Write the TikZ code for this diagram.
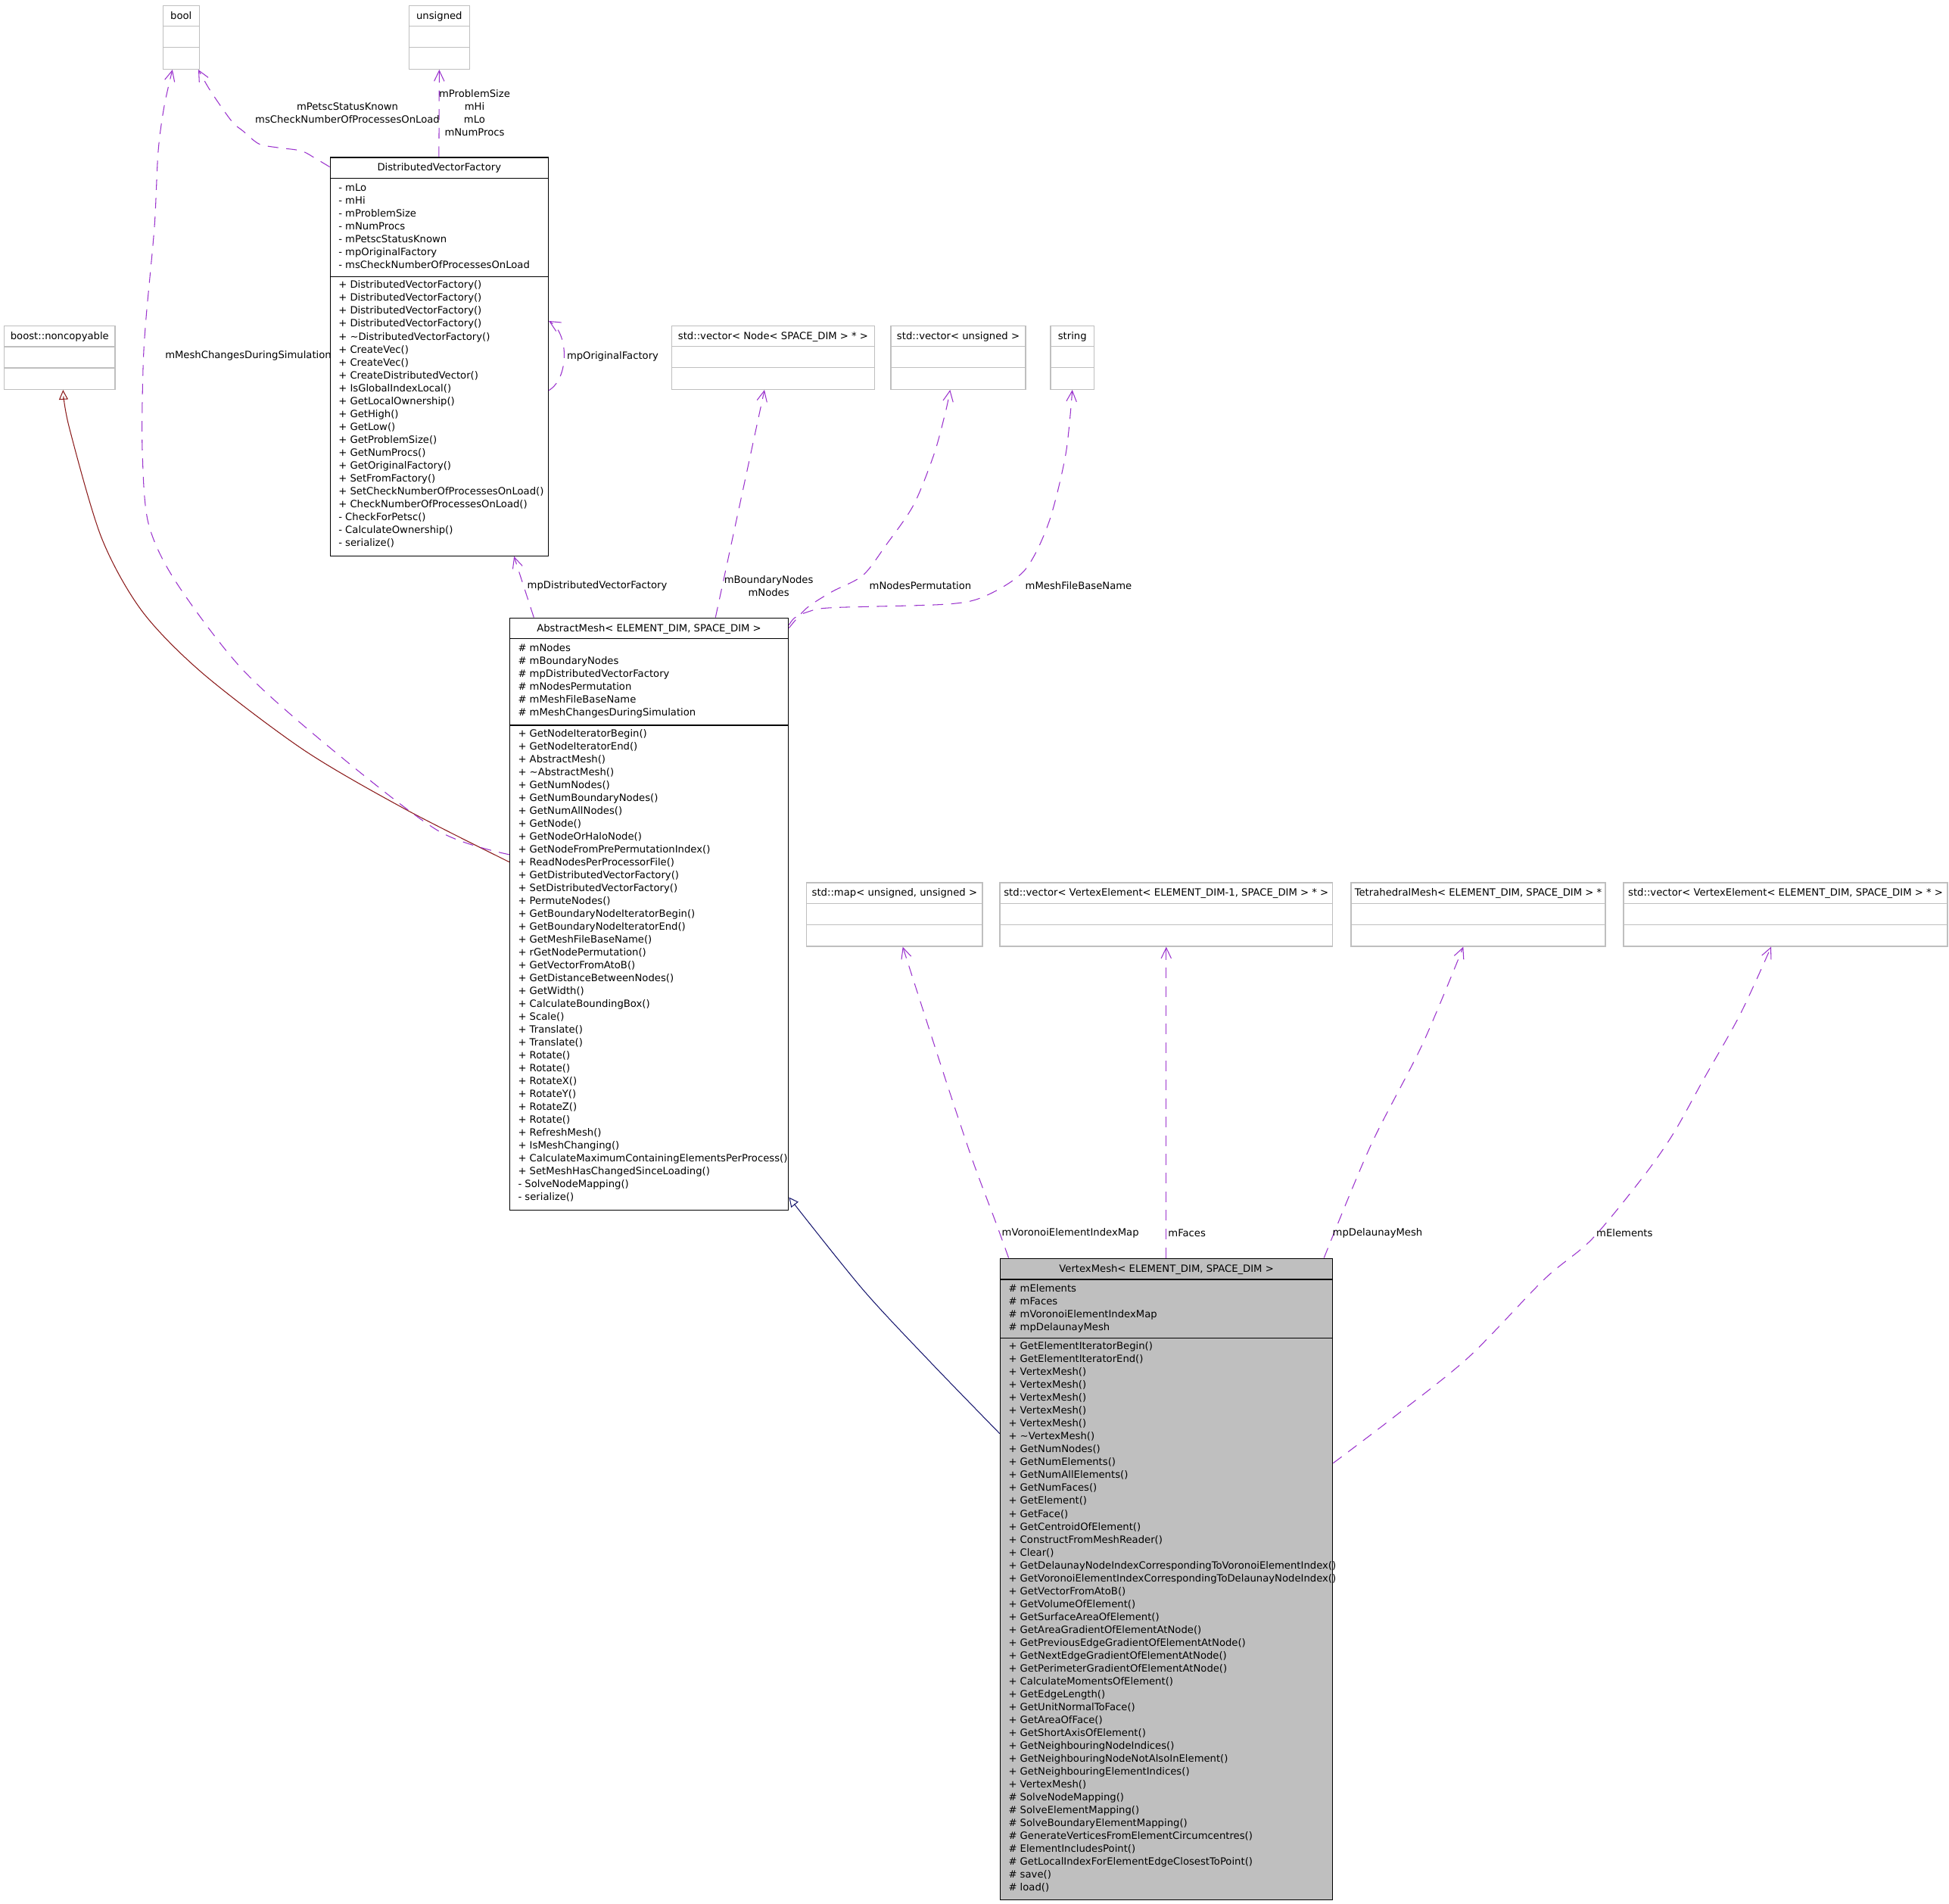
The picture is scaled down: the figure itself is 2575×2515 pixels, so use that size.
\documentclass[tikz,border=0pt]{standalone}
\usepackage{fontspec}
\setmainfont{DejaVu Sans}
\usetikzlibrary{arrows.meta,calc,fit}

\definecolor{orchidc}{HTML}{9A32CD}
\definecolor{brickc}{HTML}{8B1A1A}
\definecolor{navyc}{HTML}{191970}
\definecolor{greyc}{HTML}{BFBFBF}

\newcommand{\umlfont}{\fontsize{3.75}{4.84}\selectfont}

\tikzset{
  classbox/.style={draw=black, line width=0.4pt, inner sep=0pt},
  extbox/.style={draw=greyc, line width=0.4pt, inner sep=0pt},
  classline/.style={draw=black, line width=0.4pt},
  extline/.style={draw=greyc, line width=0.4pt},
  members/.style={anchor=north west, align=left, inner sep=0pt, font=\umlfont,
    execute at begin node={\rule{0pt}{3.4pt}}},
  clsname/.style={anchor=base, inner sep=0pt, font=\umlfont},
  elabel/.style={inner sep=0pt, align=center, font=\umlfont},
  usage/.style={draw=orchidc, line width=0.3pt, dash pattern=on 4pt off 3pt,
    -{Straight Barb[length=4pt,width=3.8pt]}},
  inherit/.style={line width=0.3pt, -{Triangle[open,length=3.6pt,width=3.4pt]}},
}

% external type box: name, corners, title
\newcommand{\extclass}[6]{%
  \node[extbox, fit={(#2,#3) (#4,#5)}] (#1) {};
  \node[clsname] (#1-name) at ($(#1.north)+(0,18.5)$) {#6};
  \draw[extline] ($(#1.north west)+(0,28)$) -- ($(#1.north east)+(0,28)$);
  \draw[extline] ($(#1.north west)+(0,56)$) -- ($(#1.north east)+(0,56)$);
}

\begin{document}
\begin{tikzpicture}[x=0.01cm, y=-0.01cm]
    \useasboundingbox (0,0) rectangle (2575,2515);

    % Plain types
    \extclass{boolT}{215.3}{7.3}{263.3}{91.3}{bool}
    \extclass{unsignedT}{540.3}{7.3}{620.4}{91.3}{unsigned}
    \extclass{noncopy}{5.4}{430.5}{152.2}{514.4}{boost::noncopyable}
    \extclass{vecnode}{887.5}{430.3}{1155.4}{514.3}{std::vector< Node< SPACE\_DIM > * >}
    \extclass{vecuns}{1177}{430.3}{1355}{514.3}{std::vector< unsigned >}
    \extclass{stringT}{1388}{430.3}{1445.5}{514.3}{string}
    \extclass{mapT}{1065.7}{1166}{1298}{1250}{std::map< unsigned, unsigned >}
    \extclass{vecface}{1321}{1166}{1760.6}{1250}{std::vector< VertexElement< ELEMENT\_DIM-1, SPACE\_DIM > * >}
    \extclass{tetra}{1785}{1166}{2121}{1250}{TetrahedralMesh< ELEMENT\_DIM, SPACE\_DIM > *}
    \extclass{vecelem}{2145}{1166}{2573}{1250}{std::vector< VertexElement< ELEMENT\_DIM, SPACE\_DIM > * >}

    % DistributedVectorFactory
    \node[classbox, fit={(436.3,208.2) (724.3,734.3)}] (dvf) {};
    \node[clsname] (dvf-name) at ($(dvf.north)+(0,18.5)$) {DistributedVectorFactory};
    \draw[classline] ($(dvf.north west)+(0,28.2)$) -- ($(dvf.north east)+(0,28.2)$);
    \draw[classline] ($(dvf.north west)+(0,158.2)$) -- ($(dvf.north east)+(0,158.2)$);
    \node[members] (dvf-attr) at ($(dvf.north west)+(11,34.2)$) {- mLo\\- mHi\\- mProblemSize\\- mNumProcs\\- mPetscStatusKnown\\- mpOriginalFactory\\- msCheckNumberOfProcessesOnLoad};
    \node[members] (dvf-ops) at ($(dvf.north west)+(11,162.7)$) {+ DistributedVectorFactory()\\+ DistributedVectorFactory()\\+ DistributedVectorFactory()\\+ DistributedVectorFactory()\\+ \textasciitilde DistributedVectorFactory()\\+ CreateVec()\\+ CreateVec()\\+ CreateDistributedVector()\\+ IsGlobalIndexLocal()\\+ GetLocalOwnership()\\+ GetHigh()\\+ GetLow()\\+ GetProblemSize()\\+ GetNumProcs()\\+ GetOriginalFactory()\\+ SetFromFactory()\\+ SetCheckNumberOfProcessesOnLoad()\\+ CheckNumberOfProcessesOnLoad()\\- CheckForPetsc()\\- CalculateOwnership()\\- serialize()};

    % AbstractMesh
    \node[classbox, fit={(673.5,816.3) (1041.6,1598.4)}] (am) {};
    \node[clsname] (am-name) at ($(am.north)+(0,18.5)$) {AbstractMesh< ELEMENT\_DIM, SPACE\_DIM >};
    \draw[classline] ($(am.north west)+(0,28.1)$) -- ($(am.north east)+(0,28.1)$);
    \draw[classline] ($(am.north west)+(0,142.4)$) -- ($(am.north east)+(0,142.4)$);
    \node[members] (am-attr) at ($(am.north west)+(11,34.1)$) {\# mNodes\\\# mBoundaryNodes\\\# mpDistributedVectorFactory\\\# mNodesPermutation\\\# mMeshFileBaseName\\\# mMeshChangesDuringSimulation};
    \node[members] (am-ops) at ($(am.north west)+(11,146.9)$) {+ GetNodeIteratorBegin()\\+ GetNodeIteratorEnd()\\+ AbstractMesh()\\+ \textasciitilde AbstractMesh()\\+ GetNumNodes()\\+ GetNumBoundaryNodes()\\+ GetNumAllNodes()\\+ GetNode()\\+ GetNodeOrHaloNode()\\+ GetNodeFromPrePermutationIndex()\\+ ReadNodesPerProcessorFile()\\+ GetDistributedVectorFactory()\\+ SetDistributedVectorFactory()\\+ PermuteNodes()\\+ GetBoundaryNodeIteratorBegin()\\+ GetBoundaryNodeIteratorEnd()\\+ GetMeshFileBaseName()\\+ rGetNodePermutation()\\+ GetVectorFromAtoB()\\+ GetDistanceBetweenNodes()\\+ GetWidth()\\+ CalculateBoundingBox()\\+ Scale()\\+ Translate()\\+ Translate()\\+ Rotate()\\+ Rotate()\\+ RotateX()\\+ RotateY()\\+ RotateZ()\\+ Rotate()\\+ RefreshMesh()\\+ IsMeshChanging()\\+ CalculateMaximumContainingElementsPerProcess()\\+ SetMeshHasChangedSinceLoading()\\- SolveNodeMapping()\\- serialize()};

    % VertexMesh
    \node[classbox, fill=greyc, fit={(1321.5,1662.3) (1760.7,2509.3)}] (vm) {};
    \node[clsname] (vm-name) at ($(vm.north)+(0,18.5)$) {VertexMesh< ELEMENT\_DIM, SPACE\_DIM >};
    \draw[classline] ($(vm.north west)+(0,28.2)$) -- ($(vm.north east)+(0,28.2)$);
    \draw[classline] ($(vm.north west)+(0,105.9)$) -- ($(vm.north east)+(0,105.9)$);
    \node[members] (vm-attr) at ($(vm.north west)+(11,33.7)$) {\# mElements\\\# mFaces\\\# mVoronoiElementIndexMap\\\# mpDelaunayMesh};
    \node[members] (vm-ops) at ($(vm.north west)+(11,110.4)$) {+ GetElementIteratorBegin()\\+ GetElementIteratorEnd()\\+ VertexMesh()\\+ VertexMesh()\\+ VertexMesh()\\+ VertexMesh()\\+ VertexMesh()\\+ \textasciitilde VertexMesh()\\+ GetNumNodes()\\+ GetNumElements()\\+ GetNumAllElements()\\+ GetNumFaces()\\+ GetElement()\\+ GetFace()\\+ GetCentroidOfElement()\\+ ConstructFromMeshReader()\\+ Clear()\\+ GetDelaunayNodeIndexCorrespondingToVoronoiElementIndex()\\+ GetVoronoiElementIndexCorrespondingToDelaunayNodeIndex()\\+ GetVectorFromAtoB()\\+ GetVolumeOfElement()\\+ GetSurfaceAreaOfElement()\\+ GetAreaGradientOfElementAtNode()\\+ GetPreviousEdgeGradientOfElementAtNode()\\+ GetNextEdgeGradientOfElementAtNode()\\+ GetPerimeterGradientOfElementAtNode()\\+ CalculateMomentsOfElement()\\+ GetEdgeLength()\\+ GetUnitNormalToFace()\\+ GetAreaOfFace()\\+ GetShortAxisOfElement()\\+ GetNeighbouringNodeIndices()\\+ GetNeighbouringNodeNotAlsoInElement()\\+ GetNeighbouringElementIndices()\\+ VertexMesh()\\\# SolveNodeMapping()\\\# SolveElementMapping()\\\# SolveBoundaryElementMapping()\\\# GenerateVerticesFromElementCircumcentres()\\\# ElementIncludesPoint()\\\# GetLocalIndexForElementEdgeClosestToPoint()\\\# save()\\\# load()};

    % Attachment points
    \coordinate (am-inh) at ($(am.north west)+(0,323)$);
    \coordinate (am-chg) at ($(am.north west)+(0,313.2)$);
    \coordinate (noncopy-in) at ($(noncopy.south west)+(78.6,0)$);
    \coordinate (bool-in1) at ($(boolT.south west)+(13.3,0)$);
    \coordinate (bool-in2) at ($(boolT.south east)+(-2,0)$);
    \coordinate (dvf-tl) at ($(dvf.north west)+(0,13)$);
    \coordinate (am-tr1) at ($(am.north east)+(0,14)$);
    \coordinate (am-tr2) at ($(am.north east)+(0,10)$);
    \coordinate (vecuns-in) at ($(vecuns.south west)+(79,0)$);
    \coordinate (vm-inh) at ($(vm.north west)+(0,232)$);
    \coordinate (am-se) at ($(am.south east)+(0,-17.7)$);
    \coordinate (vm-vor) at ($(vm.north west)+(11.8,0)$);
    \coordinate (map-in) at ($(mapT.south west)+(127.7,0)$);
    \coordinate (vm-del) at ($(vm.north east)+(-12.2,0)$);
    \coordinate (tetra-in) at ($(tetra.south west)+(149,0)$);
    \coordinate (vm-ele) at ($(vm.north east)+(0,271)$);
    \coordinate (vecelem-in) at ($(vecelem.south west)+(195.7,0)$);

    % Inheritance
    \draw[inherit, brickc] plot[smooth] coordinates {(am-inh) (535.7,1069) (401.8,991) (268,889.6) (187.5,807) (134,710) (91.5,564.8) (noncopy-in)};
    \draw[inherit, navyc] plot[smooth] coordinates {(vm-inh) (1230,1800) (1140,1703.3) (am-se)};

    % Members of DistributedVectorFactory
    \draw[usage] plot[smooth] coordinates {(dvf-tl) (418,210) (398,199.3) (367,195) (342,190) (321,173) (306,160) (278,120) (bool-in2)};
    \draw[usage] ($(dvf.north west)+(144.3,0)$) -- (unsignedT.south);
    \draw[usage] ($(dvf.north east)+(0,308.2)$) .. controls (752,500) and (752,440) .. ($(dvf.north east)+(0,216.4)$);
    \node[elabel] (lbl-petsc) at (459,149.2) {mPetscStatusKnown\\msCheckNumberOfProcessesOnLoad};
    \node[elabel] (lbl-size) at (627,149.2) {mProblemSize\\mHi\\mLo\\mNumProcs};
    \node[elabel, anchor=west] (lbl-orig) at (748.3,470.4) {mpOriginalFactory};

    % Members of AbstractMesh
    \draw[usage] plot[smooth] coordinates {(am-chg) (580,1098) (446,996) (321,885) (232,768) (196,691) (188,594) (189,487) (193,420) (204,300) (209,200) (217,140) (bool-in1)};
    \draw[usage] ($(am.north west)+(32.5,0)$) -- ($(dvf.south west)+(243.5,0)$);
    \draw[usage] ($(am.north west)+(272.5,0)$) -- ($(vecnode.south west)+(123.2,0)$);
    \draw[usage] plot[smooth] coordinates {(am-tr1) (1066,803) (1099,781.7) (1140,760) (1170.6,720) (1207,667) (1234,600) (1249.5,543) (vecuns-in)};
    \draw[usage] plot[smooth] coordinates {(am-tr2) (1050,816) (1068,808) (1099,802.7) (1252,798) (1303,786.7) (1354,753) (1385.7,690) (1408,600) (stringT.south)};
    \node[elabel] (lbl-changes) at (328,470.3) {mMeshChangesDuringSimulation};
    \node[elabel, anchor=west] (lbl-dvfac) at (696,774) {mpDistributedVectorFactory};
    \node[elabel] (lbl-nodes) at (1015.6,774.4) {mBoundaryNodes\\mNodes};
    \node[elabel] (lbl-perm) at (1216,774) {mNodesPermutation};
    \node[elabel] (lbl-fname) at (1425,774) {mMeshFileBaseName};

    % Members of VertexMesh
    \draw[usage] plot[smooth] coordinates {(vm-vor) (1315,1613) (1284,1530) (1245,1413) (map-in)};
    \draw[usage] (vecface.south |- vm.north) -- (vecface.south);
    \draw[usage] plot[smooth] coordinates {(vm-del) (1811,1513) (1879,1380) (tetra-in)};
    \draw[usage] plot[smooth] coordinates {(vm-ele) (1840,1873) (1940,1793) (2040,1690) (2103,1637) (2172,1553) (2211,1497) (2250,1427) (2299,1340) (vecelem-in)};
    \node[elabel, anchor=west] (lbl-voronoi) at (1323,1629) {mVoronoiElementIndexMap};
    \node[elabel, anchor=west] (lbl-faces) at (1542.7,1629) {mFaces};
    \node[elabel, anchor=west] (lbl-delaunay) at (1760,1629) {mpDelaunayMesh};
    \node[elabel, anchor=west] (lbl-elements) at (2108.5,1629) {mElements};
\end{tikzpicture}
\end{document}
